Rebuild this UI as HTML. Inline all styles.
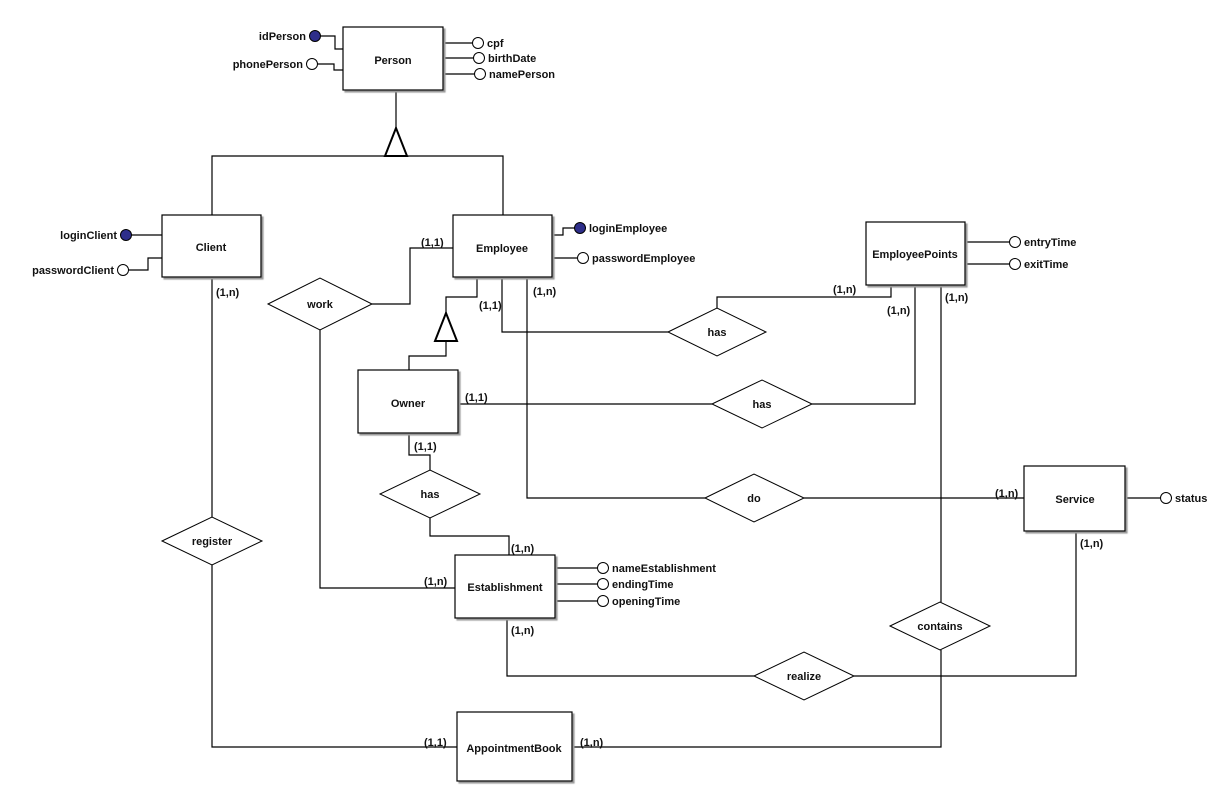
<!DOCTYPE html>
<html><head><style>
body{margin:0;background:#fff;}
svg{display:block;}
text{font-family:"Liberation Sans",sans-serif;font-weight:bold;font-size:11px;fill:#111;}
.e{text-anchor:middle;}
</style></head><body>
<svg width="1223" height="790" xmlns="http://www.w3.org/2000/svg">
<defs><filter id="s"><feDropShadow dx="2" dy="2" stdDeviation="0.6" flood-color="#999"/></filter></defs>
<g fill="none" stroke="#000" stroke-width="1.2">
<polyline points="396,92 396,128"/>
<polygon points="396,128 385,156 407,156" stroke-width="2" fill="#fff"/>
<polyline points="212,215 212,156 503,156 503,215"/>
<polyline points="320,36 335,36 335,49 343,49"/>
<polyline points="318,64 334,64 334,70 343,70"/>
<line x1="445" y1="43" x2="472" y2="43"/><line x1="445" y1="58" x2="473" y2="58"/><line x1="445" y1="74" x2="474" y2="74"/>
<line x1="131" y1="235" x2="162" y2="235"/>
<polyline points="129,270 148,270 148,258 162,258"/>
<polyline points="553,235 563,235 563,228 575,228"/>
<line x1="553" y1="258" x2="577" y2="258"/>
<polyline points="372,304 410,304 410,248 453,248"/>
<polyline points="320,330 320,588 455,588"/>
<polyline points="477,279 477,297 446,297 446,313"/>
<polygon points="446,313 435,341 457,341" stroke-width="2" fill="#fff"/>
<polyline points="446,341 446,356 409,356 409,370"/>
<polyline points="502,279 502,332 668,332"/>
<polyline points="717,308 717,297 891,297 891,287"/>
<line x1="460" y1="404" x2="712" y2="404"/>
<polyline points="812,404 915,404 915,287"/>
<line x1="967" y1="242" x2="1009" y2="242"/><line x1="967" y1="264" x2="1009" y2="264"/>
<line x1="941" y1="287" x2="941" y2="602"/>
<polyline points="941,650 941,747 574,747"/>
<polyline points="527,279 527,498 705,498"/>
<line x1="804" y1="498" x2="1024" y2="498"/>
<line x1="1127" y1="498" x2="1160" y2="498"/>
<polyline points="1076,533 1076,676 854,676"/>
<polyline points="754,676 507,676 507,620"/>
<line x1="557" y1="568" x2="597" y2="568"/><line x1="557" y1="584" x2="597" y2="584"/><line x1="557" y1="601" x2="597" y2="601"/>
<polyline points="430,470 430,455 409,455 409,435"/>
<polyline points="430,518 430,536 509,536 509,555"/>
<line x1="212" y1="279" x2="212" y2="517"/>
<polyline points="212,565 212,747 457,747"/>
</g>
<g fill="#fff" stroke="#000" stroke-width="1">
<polygon points="268,304 320,278 372,304 320,330"/>
<polygon points="668,332 717,308 766,332 717,356"/>
<polygon points="712,404 762,380 812,404 762,428"/>
<polygon points="705,498 754,474 804,498 754,522"/>
<polygon points="890,626 940,602 990,626 940,650"/>
<polygon points="754,676 804,652 854,676 804,700"/>
<polygon points="380,494 430,470 480,494 430,518"/>
<polygon points="162,541 212,517 262,541 212,565"/>
</g>
<g fill="#fff" stroke="#000" stroke-width="1.2" filter="url(#s)">
<rect x="343" y="27" width="100" height="63"/>
<rect x="162" y="215" width="99" height="62"/>
<rect x="453" y="215" width="99" height="62"/>
<rect x="866" y="222" width="99" height="63"/>
<rect x="358" y="370" width="100" height="63"/>
<rect x="1024" y="466" width="101" height="65"/>
<rect x="455" y="555" width="100" height="63"/>
<rect x="457" y="712" width="115" height="69"/>
</g>
<g stroke="#000" stroke-width="1">
<circle cx="315" cy="36" r="5.5" fill="#2e2e8a"/>
<circle cx="312" cy="64" r="5.5" fill="#fff"/>
<circle cx="478" cy="43" r="5.5" fill="#fff"/>
<circle cx="479" cy="58" r="5.5" fill="#fff"/>
<circle cx="480" cy="74" r="5.5" fill="#fff"/>
<circle cx="126" cy="235" r="5.5" fill="#2e2e8a"/>
<circle cx="123" cy="270" r="5.5" fill="#fff"/>
<circle cx="580" cy="228" r="5.5" fill="#2e2e8a"/>
<circle cx="583" cy="258" r="5.5" fill="#fff"/>
<circle cx="1015" cy="242" r="5.5" fill="#fff"/>
<circle cx="1015" cy="264" r="5.5" fill="#fff"/>
<circle cx="1166" cy="498" r="5.5" fill="#fff"/>
<circle cx="603" cy="568" r="5.5" fill="#fff"/>
<circle cx="603" cy="584" r="5.5" fill="#fff"/>
<circle cx="603" cy="601" r="5.5" fill="#fff"/>
</g>
<text class="e" x="393" y="64">Person</text>
<text class="e" x="211" y="251">Client</text>
<text class="e" x="502" y="252">Employee</text>
<text class="e" x="915" y="258">EmployeePoints</text>
<text class="e" x="408" y="407">Owner</text>
<text class="e" x="1075" y="503">Service</text>
<text class="e" x="505" y="591">Establishment</text>
<text class="e" x="514" y="752">AppointmentBook</text>
<text class="e" x="320" y="308">work</text>
<text class="e" x="717" y="336">has</text>
<text class="e" x="762" y="408">has</text>
<text class="e" x="754" y="502">do</text>
<text class="e" x="940" y="630">contains</text>
<text class="e" x="804" y="680">realize</text>
<text class="e" x="430" y="498">has</text>
<text class="e" x="212" y="545">register</text>
<text x="306" y="40" text-anchor="end">idPerson</text>
<text x="303" y="68" text-anchor="end">phonePerson</text>
<text x="487" y="47">cpf</text>
<text x="488" y="62">birthDate</text>
<text x="489" y="78">namePerson</text>
<text x="117" y="239" text-anchor="end">loginClient</text>
<text x="114" y="274" text-anchor="end">passwordClient</text>
<text x="589" y="232">loginEmployee</text>
<text x="592" y="262">passwordEmployee</text>
<text x="1024" y="246">entryTime</text>
<text x="1024" y="268">exitTime</text>
<text x="1175" y="502">status</text>
<text x="612" y="572">nameEstablishment</text>
<text x="612" y="588">endingTime</text>
<text x="612" y="605">openingTime</text>
<text x="421" y="246">(1,1)</text>
<text x="216" y="296">(1,n)</text>
<text x="479" y="309">(1,1)</text>
<text x="533" y="295">(1,n)</text>
<text x="833" y="293">(1,n)</text>
<text x="887" y="314">(1,n)</text>
<text x="945" y="301">(1,n)</text>
<text x="465" y="401">(1,1)</text>
<text x="414" y="450">(1,1)</text>
<text x="995" y="497">(1,n)</text>
<text x="1080" y="547">(1,n)</text>
<text x="511" y="552">(1,n)</text>
<text x="424" y="585">(1,n)</text>
<text x="511" y="634">(1,n)</text>
<text x="424" y="746">(1,1)</text>
<text x="580" y="746">(1,n)</text>
</svg>
</body></html>
